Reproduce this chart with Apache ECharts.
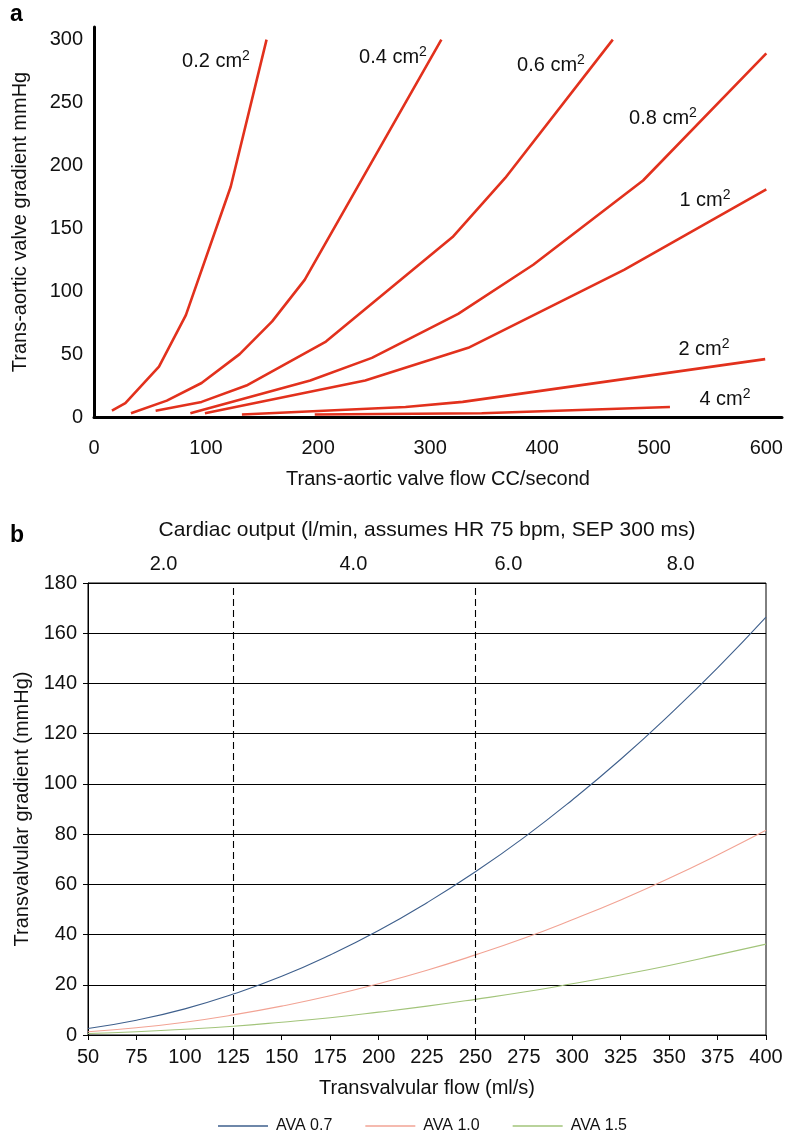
<!DOCTYPE html>
<html>
<head>
<meta charset="utf-8">
<script src="https://cdn.jsdelivr.net/npm/echarts@6/dist/echarts.min.js"></script>
<style>
html,body{margin:0;padding:0;background:#fff;}
#c{width:792px;height:1136px;}
</style>
</head>
<body>
<div id="c"></div>
<script>
// ---------- Panel a data: [flow cc/s, gradient mmHg] ----------
var curve02 = [[16,5],[28,11],[58,40],[82,81],[122,183],[154,300]];
var curve04 = [[33,3],[65,13],[96,27],[130,50],[159,76],[188,109],[310,300]];
var curve06 = [[55,5],[96,12],[136,25],[207,60],[320,143],[367,190],[463,300]];
var curve08 = [[86,3],[193,29],[248,47],[325,82],[392,121],[490,188],[600,289]];
var curve1  = [[99,3],[242,29],[334,55],[473,117],[600,181]];
var curve2  = [[132,2],[278,8],[329,12],[599,46]];
var curve4  = [[197,2],[346,3],[514,8]];
var curveNames = ['0.2', '0.4', '0.6', '0.8', '1', '2', '4'];

// ---------- Panel b data ----------
var flows  = [50,75,100,125,150,175,200,225,250,275,300,325,350,375,400];
var ava07  = [2.6,5.9,10.4,16.3,23.4,31.9,41.6,52.7,65.0,78.6,93.6,109.8,127.4,146.2,166.4];
var ava10  = [1.3,2.9,5.1,8.0,11.5,15.6,20.4,25.8,31.9,38.5,45.9,53.8,62.4,71.7,81.5];
var ava15  = [0.6,1.3,2.3,3.5,5.1,6.9,9.1,11.5,14.2,17.1,20.4,23.9,27.7,31.9,36.2];
var dashedFlows = [125, 250];
var coLabels = ['2.0', '4.0', '6.0', '8.0'];
var coFlowPos = [89, 187, 267, 356];

var FONT = '"Liberation Sans", Arial, Helvetica, sans-serif';
var RED = '#e2311d';
var FS = 20;

function pairs(xs, ys){ return xs.map(function(x,i){ return [x, ys[i]]; }); }

var chart = echarts.init(document.getElementById('c'), null, {renderer:'canvas'});

var curves = [curve02, curve04, curve06, curve08, curve1, curve2, curve4];
var seriesA = curves.map(function(d, i){
  return {
    type:'line', xAxisIndex:0, yAxisIndex:0, data:d, symbol:'none',
    name: curveNames[i] + ' cm2',
    lineStyle:{color:RED, width:2.6}, itemStyle:{color:RED},
    silent:true, animation:false, z:3
  };
});

var labelPos = [[216,61],[393,57],[551,65],[663,118],[705,200],[704,349],[725,399]];
var graphics = labelPos.map(function(p, i){
  return {
    type:'text', x:p[0], y:p[1], z:10,
    style:{
      text: curveNames[i] + ' cm{s|2}',
      align:'center', verticalAlign:'middle',
      font:FS + 'px ' + FONT, fill:'#111',
      rich:{ s:{ fontSize:14, fontFamily:FONT, verticalAlign:'top', padding:[0,0,9,0], fill:'#111' } }
    }
  };
});
graphics.push({type:'text', x:10, y:3, style:{text:'a', font:'bold 23px ' + FONT, fill:'#000'}});
graphics.push({type:'text', x:10, y:524, style:{text:'b', font:'bold 23px ' + FONT, fill:'#000'}});

var seriesB = [
  {name:'AVA 0.7', color:'#3e5f8c', data:ava07},
  {name:'AVA 1.0', color:'#f2a394', data:ava10},
  {name:'AVA 1.5', color:'#a2c47a', data:ava15}
].map(function(s, i){
  var o = {
    type:'line', xAxisIndex:1, yAxisIndex:1, name:s.name, data:pairs(flows, s.data),
    smooth:true, symbol:'none', lineStyle:{color:s.color, width:1.1},
    itemStyle:{color:s.color}, animation:false, z:3
  };
  if (i === 0) {
    o.markLine = {
      silent:true, symbol:'none', animation:false,
      label:{show:false},
      lineStyle:{color:'#000', type:[7,4], width:1.1},
      data: dashedFlows.map(function(f){ return {xAxis:f}; })
    };
  }
  return o;
});

var axisText = {color:'#111', fontSize:FS, fontFamily:FONT};

var option = {
  animation:false,
  backgroundColor:'#fff',
  textStyle:{fontFamily:FONT},
  grid:[
    {left:94, right:10, top:27, height:390, containLabel:false},
    {left:88, right:26, top:583, height:452, containLabel:false, show:true, borderColor:'#000', borderWidth:1}
  ],
  xAxis:[
    {
      gridIndex:0, type:'value', min:0, max:614, interval:100,
      name:'Trans-aortic valve flow CC/second', nameLocation:'middle', nameGap:52,
      nameTextStyle:axisText,
      axisLine:{show:true, onZero:false, lineStyle:{color:'#000', width:3}},
      axisTick:{show:false},
      axisLabel:Object.assign({margin:21, showMaxLabel:false}, axisText),
      splitLine:{show:false}
    },
    {
      gridIndex:1, type:'value', min:50, max:400, interval:25,
      name:'Transvalvular flow (ml/s)', nameLocation:'middle', nameGap:43,
      nameTextStyle:axisText,
      axisLine:{show:true, onZero:false, lineStyle:{color:'#000', width:1}},
      axisTick:{show:true, length:5, lineStyle:{color:'#000'}},
      axisLabel:Object.assign({margin:12}, axisText),
      splitLine:{show:false}
    },
    {
      gridIndex:1, type:'value', min:50, max:400, position:'top',
      name:'Cardiac output (l/min, assumes HR 75 bpm, SEP 300 ms)', nameLocation:'middle', nameGap:42,
      nameTextStyle:{color:'#111', fontSize:21, fontFamily:FONT},
      axisLine:{show:false},
      axisTick:{show:false},
      axisLabel:Object.assign({
        margin:9,
        customValues:coFlowPos,
        formatter:function(v){ var k = coFlowPos.indexOf(v); return k >= 0 ? coLabels[k] : ''; }
      }, axisText),
      splitLine:{show:false}
    }
  ],
  yAxis:[
    {
      gridIndex:0, type:'value', min:0, max:310, interval:50,
      name:'Trans-aortic valve gradient mmHg', nameLocation:'middle', nameGap:64,
      nameTextStyle:axisText,
      axisLine:{show:true, onZero:false, lineStyle:{color:'#000', width:3}},
      axisTick:{show:false},
      axisLabel:Object.assign({margin:11, showMaxLabel:false}, axisText),
      splitLine:{show:false}
    },
    {
      gridIndex:1, type:'value', min:0, max:180, interval:20,
      name:'Transvalvular gradient (mmHg)', nameLocation:'middle', nameGap:56,
      nameTextStyle:axisText,
      axisLine:{show:true, onZero:false, lineStyle:{color:'#000', width:1}},
      axisTick:{show:true, length:5, lineStyle:{color:'#000'}},
      axisLabel:Object.assign({margin:11}, axisText),
      splitLine:{show:true, lineStyle:{color:'#000', width:1}}
    }
  ],
  legend:{
    top:1113, left:213,
    data:['AVA 0.7','AVA 1.0','AVA 1.5'],
    icon:'rect', itemWidth:50, itemHeight:1.5, itemGap:33,
    textStyle:{color:'#111', fontSize:16, fontFamily:FONT, padding:[0,0,0,3]}
  },
  graphic:graphics,
  series: seriesA.concat(seriesB)
};
option.series.push({type:'line', xAxisIndex:2, yAxisIndex:1, data:[], silent:true});
chart.setOption(option);
</script>
</body>
</html>
